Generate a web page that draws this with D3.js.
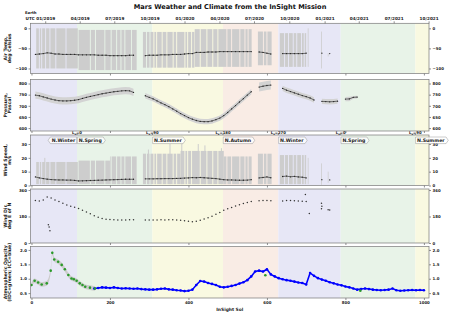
<!DOCTYPE html>
<html>
<head>
<meta charset="utf-8">
<script src="https://cdn.jsdelivr.net/npm/d3@7"></script>
<style>
  body { margin: 0; background: #fff; }
  text { font-family: "DejaVu Sans", sans-serif; font-weight: bold; }
</style>
</head>
<body>
<script>
// ---- data ----
var solTicks = [0, 200, 400, 600, 800, 1000];
var dateTickSols = [35, 123, 211, 301, 390, 479, 567, 657, 747, 834, 923, 1012];
var dateTickLabels = ["01/2019", "04/2019", "07/2019", "10/2019", "01/2020", "04/2020",
                      "07/2020", "10/2020", "01/2021", "04/2021", "07/2021", "10/2021"];

var lsSols = [116, 308, 488, 629, 788, 978];
var lsLabels = ["0", "90", "180", "270", "0", "90"];

var seasonStart = [-2.5, 116, 308, 488, 629, 788, 978];
var seasonEnd = [116, 308, 488, 629, 788, 978, 1013];
var seasonNames = ["winter", "spring", "summer", "autumn", "winter", "spring", "summer"];
var seasonTexts = ["N.Winter", "N.Spring", "N.Summer", "N.Autumn", "N.Winter", "N.Spring", "N.Summer"];

// sols with daily means (temperature, wind)
var meanSols = [10,20,30,40,50,60,70,80,90,100,110,120,130,140,150,160,170,180,190,200,210,220,230,240,250,260,
  290,300,310,320,330,340,350,360,370,380,390,400,410,420,430,440,450,460,470,480,490,500,510,520,530,540,550,560,
  580,590,600,610,
  640,650,660,670,680,690,700,
  740,760];
var tempMean = [-65,-64,-63,-61,-62,-64,-64,-65,-65,-65,-65,-66,-66,-66,-66,-66,-67,-67,-67,-68,-68,-68,-68,-68,-67,-67,
  -68,-67,-67,-67,-66,-66,-66,-65,-65,-65,-64,-63,-63,-60,-60,-60,-59,-59,-59,-58,-58,-58,-58,-58,-58,-58,-58,-58,
  -59,-60,-62,-64,
  -63,-63,-63,-63,-63,-63,-62,
  -62,-63];
var windMean = [6.2,5.5,5.0,4.6,4.3,4.1,4.0,4.0,3.9,3.9,3.7,3.3,3.4,3.5,3.6,3.7,3.8,3.9,4.0,4.1,4.2,4.3,4.4,4.5,4.5,4.5,
  4.8,4.8,4.8,4.9,4.9,5.0,5.0,5.0,5.1,5.2,5.4,5.5,5.7,5.6,5.8,5.6,5.4,5.2,5.0,4.6,4.2,4.0,4.0,3.9,3.8,3.8,3.9,4.2,
  5.5,5.8,6.2,5.6,
  6.5,6.8,6.3,6.6,6.2,6.0,5.5,
  4.2,4.0];
var windDir = [288,286,292,312,305,292,282,270,258,250,243,235,222,210,198,186,175,167,162,159,158,157,156,157,158,158,
  157,156,157,157,158,157,158,158,157,155,152,148,145,147,155,163,172,182,195,208,222,232,242,252,260,268,275,282,
  287,288,288,287,
  286,288,288,287,285,284,282,
  250,225];
var windDirOddSols = [43, 45, 47, 698, 708, 739, 739, 756];
var windDirOdd = [124, 109, 84, 330, 200, 270, 232, 226];

// daily min / max ranges (temperature, wind speed)
var tempRangeStart = [12, 120, 284, 416, 577, 633, 704, 738, 755];
var tempRangeEnd = [118, 268, 415, 561, 612, 700, 706, 740, 757];
var tempRangeMin = [-100, -104, -98, -96, -92, -96, -96, -100, -70];
var tempRangeMax = [0, -4, -9, -2, -8, -12, 0, -8, -62];

var windRangeStart = [12, 120, 200, 284, 380, 490, 577, 633, 704, 738, 755];
var windRangeEnd = [118, 200, 268, 380, 490, 561, 612, 700, 706, 740, 757];
var windRangeMin = [1, 1, 1, 1, 1, 1, 1, 1, 1, 0.5, 2];
var windRangeMax = [17, 18, 21, 23, 25, 21, 23, 22, 20, 16, 10];
var windSpikeSols = [34, 298, 353, 383, 425, 442, 484];
var windSpikeMax = [20, 26, 30, 30, 30, 29, 27];

var missingSols = [20, 26, 36, 47, 62, 88, 150, 163, 187, 203, 217, 228, 238, 255, 293, 302, 312, 319, 333, 345, 361, 370,
  391, 398, 408, 430, 447, 462, 475, 498, 510, 531, 544, 552, 591, 600, 645, 655, 667, 676, 688, 695];

// pressure
var presSols = [10,20,30,40,50,60,70,80,90,100,110,120,130,140,150,160,170,180,190,200,210,220,230,240,250,260,
  290,300,310,320,330,340,350,360,370,380,390,400,410,420,430,440,450,460,470,480,490,500,510,520,530,540,550,560,
  580,590,600,610,
  640,650,660,670,680,690,700,710,720,
  740,750,760,770,780,
  800,810,820,830];
var presMean = [748,745,740,735,730,726,723,722,722,723,725,728,733,738,742,746,750,754,757,760,763,765,767,768,767,760,
  745,738,731,722,713,705,696,686,676,665,656,647,640,634,630,629,629,632,638,645,656,670,686,701,717,732,748,763,
  784,788,791,793,
  778,770,764,758,752,746,741,735,726,
  720,719,718,719,721,
  730,731,738,739];
var presBandStart = [8, 284, 575, 633, 738, 795, 818];
var presBandEnd = [262, 561, 613, 722, 782, 812, 832];
var presBandHalf = [16, 12, 20, 12, 12, 10, 6];

// atmospheric opacity
var idcSols = [0, 8, 17, 26, 39, 49, 53, 58, 68, 77, 85, 94, 102, 108, 115, 123, 130, 137, 149, 162];
var idcVals = [0.78, 0.93, 0.87, 0.80, 0.84, 1.28, 1.90, 1.67, 1.59, 1.48, 1.33, 1.13, 1.01, 0.98, 0.93, 0.84, 0.78, 0.72, 0.69, 0.66];
var idcExtraSols = [596, 838];
var idcExtraVals = [1.12, 0.58];
var idcBand = 0.08;
var iccSols = [160,170,180,190,200,210,220,230,240,250,260,270,280,290,300,310,320,330,340,350,360,370,380,390,400,
  410,420,430,440,450,460,470,480,490,500,510,520,530,540,550,560,570,580,590,600,610,620,630,640,650,660,670,680,690,700,
  710,720,730,740,750,760,770,780,790,800,810,820,830,840,850,860,870,880,890,900,910,920,930,940,950,960,970,980,990,1000];
var iccVals = [0.66,0.68,0.70,0.69,0.68,0.70,0.68,0.66,0.67,0.66,0.65,0.66,0.64,0.63,0.62,0.62,0.63,0.65,0.66,0.63,0.62,0.60,0.59,0.57,0.58,
  0.62,0.78,0.92,0.90,0.85,0.82,0.78,0.72,0.70,0.72,0.75,0.78,0.83,0.88,0.95,1.08,1.25,1.28,1.25,1.33,1.15,1.08,1.02,0.98,0.95,0.93,0.90,0.87,0.85,0.80,
  1.20,1.10,1.02,0.97,0.93,0.88,0.84,0.80,0.77,0.73,0.70,0.66,0.62,0.64,0.66,0.64,0.62,0.61,0.60,0.61,0.62,0.66,0.60,0.58,0.59,0.60,0.61,0.60,0.61,0.60];

// ---- layout ----
var W = 450, H = 316;
var seasonColor = {winter: "#e7e7f6", spring: "#e8f3e8", summer: "#f9f9e1", autumn: "#f9ece5"};

var svg = d3.select("body").append("svg")
    .attr("width", W)
    .attr("height", H);

var x = d3.scaleLinear().domain([-2.5, 1013]).range([30.5, 429]);

var panels = [
  {top: 23.3, bottom: 73.5, domain: [-112.5, 12.5], ticks: [-100, -50, 0], fmt: d3.format("d"), label: ["Air Temp,", "deg Celsius"]},
  {top: 79.5, bottom: 131, domain: [587, 818], ticks: [600, 650, 700, 750, 800], fmt: d3.format("d"), label: ["Pressure,", "Pascal"]},
  {top: 135, bottom: 185.5, domain: [0, 36.5], ticks: [0, 10, 20, 30], fmt: d3.format("d"), label: ["Wind Speed,", "m/s"]},
  {top: 189, bottom: 243, domain: [0, 367], ticks: [0, 180, 360], fmt: d3.format("d"), label: ["Wind Dir,", "deg E of N"]},
  {top: 246.5, bottom: 298, domain: [0.33, 2.12], ticks: [0.5, 1.0, 1.5, 2.0], fmt: d3.format(".1f"), label: ["Atmospheric Opacity", "(IDC=green; ICC=blue)"]}
];
panels.forEach(function(p, i) {
  p.y = d3.scaleLinear().domain(p.domain).range([p.bottom, p.top]);
  svg.append("clipPath").attr("id", "clip" + i)
    .append("rect")
      .attr("x", x.range()[0]).attr("y", p.top)
      .attr("width", x.range()[1] - x.range()[0]).attr("height", p.bottom - p.top);
  p.g = svg.append("g").attr("clip-path", "url(#clip" + i + ")");
  // season shading
  p.g.selectAll(".season")
      .data(seasonStart)
    .enter().append("rect")
      .attr("x", function(d) { return x(d); })
      .attr("width", function(d, j) { return x(seasonEnd[j]) - x(d); })
      .attr("y", p.top)
      .attr("height", p.bottom - p.top)
      .attr("fill", function(d, j) { return seasonColor[seasonNames[j]]; });
});

// split a range into pieces with white gaps at missing sols
function rangePieces(starts, ends, mins, maxs) {
  var out = [];
  starts.forEach(function(s, i) {
    var a = s;
    missingSols.filter(function(m) { return m > s && m < ends[i]; }).forEach(function(m) {
      out.push({a: a, b: m - 1.2, lo: mins[i], hi: maxs[i]});
      a = m + 1.2;
    });
    out.push({a: a, b: ends[i], lo: mins[i], hi: maxs[i]});
  });
  return out;
}

// split series into runs of consecutive sols
function runs(sols, vals) {
  var out = [], cur = [];
  sols.forEach(function(s, i) {
    if (cur.length && s - cur[cur.length - 1].s > 15) { out.push(cur); cur = []; }
    cur.push({s: s, v: vals[i]});
  });
  if (cur.length) out.push(cur);
  return out;
}

function drawRanges(p, pieces) {
  p.g.selectAll(".rng")
      .data(pieces)
    .enter().append("rect")
      .attr("x", function(d) { return x(d.a); })
      .attr("width", function(d) { return Math.max(0.6, x(d.b) - x(d.a)); })
      .attr("y", function(d) { return p.y(d.hi); })
      .attr("height", function(d) { return p.y(d.lo) - p.y(d.hi); })
      .attr("fill", "#cdcdcd");
}

function drawMean(p, sols, vals) {
  var line = d3.line()
      .x(function(d) { return x(d.s); })
      .y(function(d) { return p.y(d.v); });
  runs(sols, vals).forEach(function(r) {
    p.g.append("path")
        .datum(r)
        .attr("d", line)
        .attr("fill", "none")
        .attr("stroke", "#333")
        .attr("stroke-width", 0.7);
  });
  p.g.selectAll(".pt")
      .data(sols)
    .enter().append("circle")
      .attr("cx", function(d) { return x(d); })
      .attr("cy", function(d, i) { return p.y(vals[i]); })
      .attr("r", 0.65)
      .attr("fill", "#222");
}

// panel 1: air temperature
drawRanges(panels[0], rangePieces(tempRangeStart, tempRangeEnd, tempRangeMin, tempRangeMax));
drawMean(panels[0], meanSols, tempMean);

// panel 2: pressure
(function() {
  var p = panels[1];
  function half(s) {
    var k = presBandStart.findIndex(function(b, i) { return s >= b && s <= presBandEnd[i]; });
    return k < 0 ? 10 : presBandHalf[k];
  }
  var area = d3.area()
      .x(function(d) { return x(d.s); })
      .y0(function(d) { return p.y(d.v - half(d.s)); })
      .y1(function(d) { return p.y(d.v + half(d.s)); });
  runs(presSols, presMean).forEach(function(r) {
    p.g.append("path").datum(r).attr("d", area).attr("fill", "#d3d3d3");
  });
  drawMean(p, presSols, presMean);
})();

// panel 3: wind speed
drawRanges(panels[2], rangePieces(windRangeStart, windRangeEnd, windRangeMin, windRangeMax));
panels[2].g.selectAll(".spike")
    .data(windSpikeSols)
  .enter().append("rect")
    .attr("x", function(d) { return x(d) - 0.5; })
    .attr("width", 1)
    .attr("y", function(d, i) { return panels[2].y(windSpikeMax[i]); })
    .attr("height", function(d, i) { return panels[2].y(1) - panels[2].y(windSpikeMax[i]); })
    .attr("fill", "#cdcdcd");
drawMean(panels[2], meanSols, windMean);

// panel 4: wind direction
panels[3].g.selectAll(".wd")
    .data(meanSols.concat(windDirOddSols))
  .enter().append("circle")
    .attr("cx", function(d) { return x(d); })
    .attr("cy", function(d, i) { return panels[3].y(windDir.concat(windDirOdd)[i]); })
    .attr("r", 0.75)
    .attr("fill", "#333");

// panel 5: opacity
(function() {
  var p = panels[4];
  var idc = idcSols.map(function(s, i) { return {s: s, v: idcVals[i]}; });
  p.g.append("path")
      .datum(idc)
      .attr("d", d3.area().curve(d3.curveMonotoneX)
        .x(function(d) { return x(d.s); })
        .y0(function(d) { return p.y(d.v - idcBand); })
        .y1(function(d) { return p.y(d.v + idcBand); }))
      .attr("fill", "#cccccc");
  var icc = iccSols.map(function(s, i) { return {s: s, v: iccVals[i]}; });
  p.g.append("path")
      .datum(icc)
      .attr("d", d3.line().x(function(d) { return x(d.s); }).y(function(d) { return p.y(d.v); }))
      .attr("fill", "none")
      .attr("stroke", "#0000ff")
      .attr("stroke-width", 1.6);
  p.g.selectAll(".icc")
      .data(icc)
    .enter().append("circle")
      .attr("cx", function(d) { return x(d.s); })
      .attr("cy", function(d) { return p.y(d.v); })
      .attr("r", 1.3)
      .attr("fill", "#0000ff");
  p.g.selectAll(".idc")
      .data(idc.concat(idcExtraSols.map(function(s, i) { return {s: s, v: idcExtraVals[i]}; })))
    .enter().append("circle")
      .attr("cx", function(d) { return x(d.s); })
      .attr("cy", function(d) { return p.y(d.v); })
      .attr("r", 1.3)
      .attr("fill", "#2a9a2a");
})();

// ---- axes ----
function styleAxis(g, size) {
  g.select(".domain").remove();
  g.selectAll(".tick line").attr("stroke", "#444").attr("stroke-width", 0.6);
  g.selectAll("text").attr("font-size", size).attr("fill", "#222")
    .attr("font-family", "DejaVu Sans, sans-serif").attr("font-weight", "bold");
}

panels.forEach(function(p, i) {
  svg.append("g")
      .attr("transform", "translate(" + x.range()[0] + ",0)")
      .call(d3.axisLeft(p.y).tickValues(p.ticks).tickFormat(p.fmt).tickSize(2).tickPadding(1.5))
      .call(styleAxis, 3.9);
  svg.append("g")
      .attr("transform", "translate(" + x.range()[1] + ",0)")
      .call(d3.axisRight(p.y).tickValues(p.ticks).tickFormat(p.fmt).tickSize(2).tickPadding(1.5))
      .call(styleAxis, 3.9);
  svg.append("g")
      .attr("transform", "translate(0," + p.bottom + ")")
      .call(d3.axisBottom(x).tickValues(solTicks).tickSize(2).tickPadding(1.5)
        .tickFormat(i === panels.length - 1 ? d3.format("d") : ""))
      .call(styleAxis, 3.9);
  svg.append("rect")
      .attr("x", x.range()[0]).attr("y", p.top)
      .attr("width", x.range()[1] - x.range()[0]).attr("height", p.bottom - p.top)
      .attr("fill", "none").attr("stroke", "#777").attr("stroke-width", 0.7);
  // rotated y label, two lines
  var cy = (p.top + p.bottom) / 2;
  p.label.forEach(function(t, k) {
    svg.append("text")
        .attr("transform", "translate(" + (6.5 + k * 4.8) + "," + cy + ") rotate(-90)")
        .attr("text-anchor", "middle")
        .attr("font-size", 4.6)
        .attr("fill", "#222")
        .text(t);
  });
});

// top Earth-date axis
svg.append("g")
    .attr("transform", "translate(0," + panels[0].top + ")")
    .call(d3.axisTop(x).tickValues(dateTickSols).tickSize(2).tickPadding(1.5)
      .tickFormat(function(d, i) { return dateTickLabels[i]; }))
    .call(styleAxis, 4.2);
svg.append("text").attr("x", 25).attr("y", 14).attr("font-size", 3.8).attr("fill", "#222").text("Earth");
svg.append("text").attr("x", 25.5).attr("y", 19.8).attr("font-size", 4.2).attr("fill", "#222").text("UTC");

// Ls markers between pressure and wind panels
svg.selectAll(".lsTick")
    .data(lsSols)
  .enter().append("line")
    .attr("x1", function(d) { return x(d); }).attr("x2", function(d) { return x(d); })
    .attr("y1", panels[2].top).attr("y2", panels[2].top - 1.5)
    .attr("stroke", "#444").attr("stroke-width", 0.6);
var lsText = svg.selectAll(".ls")
    .data(lsSols)
  .enter().append("text")
    .attr("x", function(d) { return x(d); })
    .attr("y", 134.2)
    .attr("text-anchor", "middle")
    .attr("font-size", 3.8)
    .attr("fill", "#222");
lsText.append("tspan").text("L");
lsText.append("tspan").attr("font-size", 2.8).attr("dy", 0.8).text("s");
lsText.append("tspan").attr("dy", -0.8).text(function(d, i) { return "=" + lsLabels[i]; });

// season labels with arrow boxes
var seasonLabelSols = [116, 116, 308, 488, 629, 788, 978];
seasonTexts.forEach(function(t, i) {
  var g = svg.append("g");
  var txt = g.append("text")
      .attr("y", 141.8)
      .attr("font-size", 4.7)
      .attr("fill", "#222")
      .text(t);
  var w = txt.node().getComputedTextLength();
  var pad = 1.4, y0 = 137, y1 = 143.6, ym = (y0 + y1) / 2, tip = 2.2;
  var path, tx;
  if (i === 0) {
    var xr = x(seasonLabelSols[i]) - 0.3, xl = xr - w - 2 * pad;
    tx = xl + pad;
    path = "M" + xl + "," + y0 + "L" + xr + "," + y0 + "L" + xr + "," + y1 + "L" + xl + "," + y1 + "L" + (xl - tip) + "," + ym + "Z";
  } else {
    var xl2 = x(seasonLabelSols[i]) + 0.3, xr2 = xl2 + w + 2 * pad;
    tx = xl2 + pad;
    path = "M" + xl2 + "," + y0 + "L" + xr2 + "," + y0 + "L" + (xr2 + tip) + "," + ym + "L" + xr2 + "," + y1 + "L" + xl2 + "," + y1 + "Z";
  }
  g.insert("path", "text").attr("d", path)
      .attr("fill", "#ffffff").attr("fill-opacity", 0.75)
      .attr("stroke", "#999").attr("stroke-width", 0.5);
  txt.attr("x", tx);
});

// title and x label
svg.append("text")
    .attr("x", 230).attr("y", 9)
    .attr("text-anchor", "middle")
    .attr("font-size", 6.6)
    .attr("fill", "#111")
    .text("Mars Weather and Climate from the InSight Mission");
svg.append("text")
    .attr("x", (x.range()[0] + x.range()[1]) / 2).attr("y", 311)
    .attr("text-anchor", "middle")
    .attr("font-size", 4.4)
    .attr("fill", "#222")
    .text("InSight Sol");
</script>
</body>
</html>
